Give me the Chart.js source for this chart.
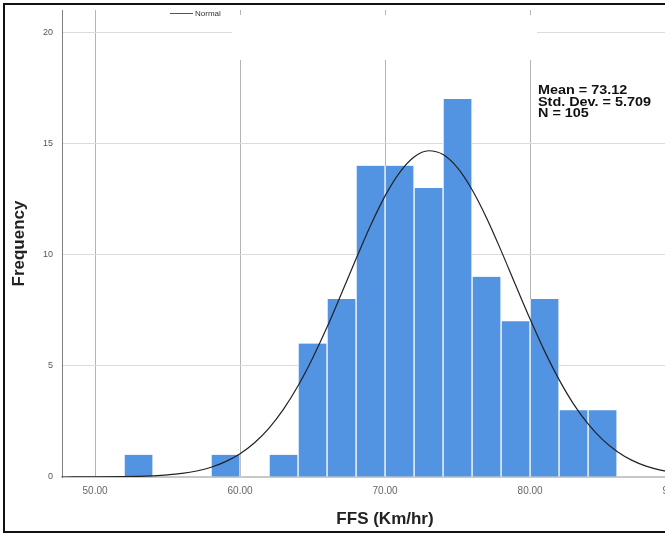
<!DOCTYPE html>
<html>
<head>
<meta charset="utf-8">
<script src="https://cdn.jsdelivr.net/npm/chart.js@4/dist/chart.umd.min.js"></script>
<style>
  html, body { margin: 0; padding: 0; width: 665px; height: 535px; overflow: hidden; background: #fff; }
  #frame { position: absolute; left: 3px; top: 3px; width: 715px; height: 526px; border: 2px solid #111; }
  #wrap { position: absolute; left: 0; top: 0; width: 715px; height: 526px; }
  #stats { position: absolute; left: 538px; top: 85px; font: bold 12px "Liberation Sans", Arial, sans-serif; line-height: 11.5px; color: #111; white-space: pre; transform: scaleX(1.2); transform-origin: left top; }
</style>
</head>
<body>
<div id="frame">
  <div id="wrap"><canvas id="histChart"></canvas></div>
</div>
<div id="stats"></div>
<script>
// histogram bins (centre of each 2 km/hr bin) and counts
const binCenters = [53, 59, 63, 65, 67, 69, 71, 73, 75, 77, 79, 81, 83, 85];
const binCounts  = [1, 1, 1, 6, 8, 14, 14, 13, 17, 9, 7, 8, 3, 3];

// fitted normal curve
const curveX = [47, 48, 50, 52, 53, 54, 55, 56, 57, 58, 59, 60, 61, 62, 63, 64, 65, 66, 67, 68, 69,
  70, 71, 72, 73, 74, 75, 76, 77, 78, 79, 80, 81, 82, 83, 84, 85, 86, 87, 88, 89, 90, 91, 92];
const curveY = [0.0, 0.001, 0.004, 0.016, 0.029, 0.054, 0.095, 0.16, 0.27, 0.44, 0.69, 1.05, 1.54, 2.2, 3.05, 4.1, 5.34, 6.74, 8.26, 9.81, 11.31,
  12.64, 13.69, 14.39, 14.67, 14.5, 13.9, 12.92, 11.65, 10.18, 8.63, 7.1, 5.66, 4.38, 3.28, 2.39, 1.68, 1.15, 0.76, 0.49, 0.31, 0.19, 0.11, 0.06];

const xTicks = [50, 60, 70, 80, 90];
const xTickLabels = ["50.00", "60.00", "70.00", "80.00", "90.00"];
const yTicks = [0, 5, 10, 15, 20];

const meanValue = "73.12";
const stdDev = "5.709";
const nCount = "105";

document.getElementById("stats").textContent =
  "Mean = " + meanValue + "\nStd. Dev. = " + stdDev + "\nN = " + nCount;

// SPSS style legend box at the top of the plot
const legendPlugin = {
  id: "spssLegend",
  beforeDatasetsDraw(chart) {
    const c = chart.ctx;
    c.save();
    c.fillStyle = "#fff";
    c.fillRect(227, 10, 305, 45);
    c.strokeStyle = "#555";
    c.lineWidth = 1;
    c.beginPath();
    c.moveTo(165, 8.5);
    c.lineTo(188, 8.5);
    c.stroke();
    c.fillStyle = "#333";
    c.font = "8px 'Liberation Sans', Arial, sans-serif";
    c.textBaseline = "middle";
    c.fillText("Normal", 190, 9);
    c.restore();
  }
};

const ctx = document.getElementById("histChart").getContext("2d");
const chart = new Chart(ctx, {
  type: "bar",
  data: {
    datasets: [
      {
        type: "line",
        label: "Normal",
        data: curveX.map((x, i) => ({ x: x, y: curveY[i] })),
        borderColor: "#222",
        borderWidth: 1.2,
        pointRadius: 0,
        cubicInterpolationMode: "monotone",
        fill: false,
        order: 0
      },
      {
        label: "Frequency",
        data: binCenters.map((x, i) => ({ x: x, y: binCounts[i] })),
        backgroundColor: "#5293e2",
        borderColor: "#fff",
        borderWidth: { left: 1, right: 1, top: 0, bottom: 0 },
        barPercentage: 1,
        categoryPercentage: 1,
        grouped: false,
        order: 1
      }
    ]
  },
  options: {
    responsive: true,
    maintainAspectRatio: false,
    animation: false,
    layout: { padding: { top: 5, right: 12, left: 0, bottom: 0 } },
    plugins: {
      legend: { display: false },
      tooltip: { enabled: false }
    },
    scales: {
      x: {
        type: "linear",
        offset: false,
        min: 47.72,
        max: 92.27,
        afterBuildTicks: axis => { axis.ticks = xTicks.map(v => ({ value: v })); },
        afterFit: axis => { axis.height = 54; },
        ticks: {
          callback: (v) => xTickLabels[xTicks.indexOf(v)],
          padding: 8,
          maxRotation: 0,
          color: "#666",
          font: { family: "'Liberation Sans', Arial, sans-serif", size: 10 }
        },
        grid: { offset: false, color: "#b4b4b4", lineWidth: 1, drawTicks: false },
        border: { color: "#c8c8c8", width: 2 },
        title: {
          display: true,
          text: "FFS (Km/hr)",
          color: "#222",
          padding: { top: 0, bottom: 1 },
          font: { family: "'Liberation Sans', Arial, sans-serif", size: 17, weight: "bold" }
        }
      },
      y: {
        min: 0,
        max: 21,
        afterBuildTicks: axis => { axis.ticks = yTicks.map(v => ({ value: v })); },
        afterFit: axis => {
          axis.width = 57;
          axis.paddingTop = 0;
          axis.paddingBottom = 0;
        },
        ticks: {
          padding: 9,
          color: "#555",
          font: { family: "'Liberation Sans', Arial, sans-serif", size: 9 }
        },
        grid: { color: "#dcdcdc", lineWidth: 1, drawTicks: false },
        border: { color: "#808080", width: 1 },
        title: {
          display: true,
          text: "Frequency",
          color: "#222",
          padding: { top: 4, bottom: 0 },
          font: { family: "'Liberation Sans', Arial, sans-serif", size: 17, weight: "bold" }
        }
      }
    }
  },
  plugins: [legendPlugin]
});
</script>
</body>
</html>
